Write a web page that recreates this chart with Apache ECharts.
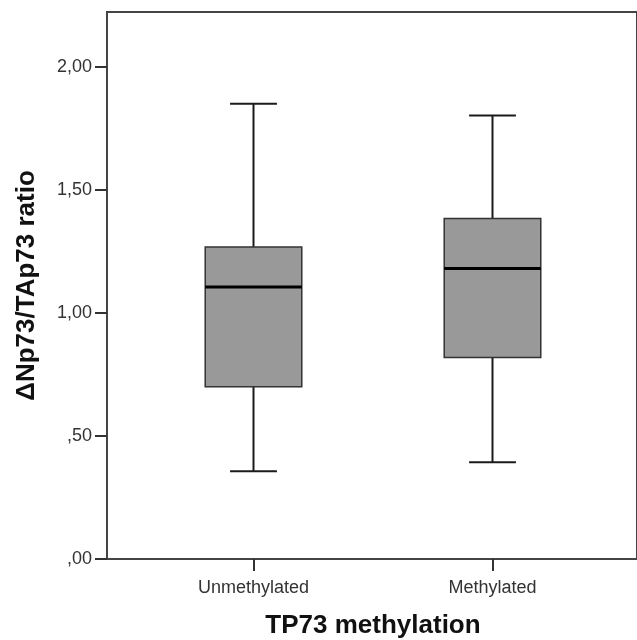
<!DOCTYPE html>
<html>
<head>
<meta charset="utf-8">
<script src="https://cdn.jsdelivr.net/npm/echarts@6/dist/echarts.min.js"></script>
<style>
  html, body { margin: 0; padding: 0; background: #fff; }
  #main { width: 637px; height: 640px; }
</style>
</head>
<body>
<div id="main"></div>
<script>
var categories = ['Unmethylated', 'Methylated'];
var lowWhisker = [0.357, 0.393];
var q1 = [0.700, 0.819];
var median = [1.106, 1.181];
var q3 = [1.268, 1.384];
var highWhisker = [1.851, 1.803];
var yTicks = [0, 0.5, 1, 1.5, 2];

var boxData = [];
for (var i = 0; i < categories.length; i++) {
    boxData.push([i, lowWhisker[i], q1[i], median[i], q3[i], highWhisker[i]]);
}

function tickLabel(v) {
    // SPSS style: comma decimal, no leading zero
    return v.toFixed(2).replace('.', ',').replace(/^0/, '');
}

function renderBox(params, api) {
    var x = api.value(0);
    var pLow = api.coord([x, api.value(1)]);
    var pQ1 = api.coord([x, api.value(2)]);
    var pMed = api.coord([x, api.value(3)]);
    var pQ3 = api.coord([x, api.value(4)]);
    var pHigh = api.coord([x, api.value(5)]);
    var band = api.size([1, 0])[0];
    var half = band * 0.202;
    var capHalf = band * 0.098;
    var cx = pMed[0];
    var wStyle = { stroke: '#1a1a1a', lineWidth: 2 };
    return {
        type: 'group',
        children: [
            { type: 'line', shape: { x1: cx, y1: pHigh[1], x2: cx, y2: pQ3[1] }, style: wStyle },
            { type: 'line', shape: { x1: cx, y1: pQ1[1], x2: cx, y2: pLow[1] }, style: wStyle },
            { type: 'line', shape: { x1: cx - capHalf, y1: pHigh[1], x2: cx + capHalf, y2: pHigh[1] }, style: wStyle },
            { type: 'line', shape: { x1: cx - capHalf, y1: pLow[1], x2: cx + capHalf, y2: pLow[1] }, style: wStyle },
            { type: 'rect', shape: { x: cx - half, y: pQ3[1], width: half * 2, height: pQ1[1] - pQ3[1] },
              style: { fill: '#999999', stroke: '#333333', lineWidth: 1.5 } },
            { type: 'line', shape: { x1: cx - half, y1: pMed[1], x2: cx + half, y2: pMed[1] },
              style: { stroke: '#000000', lineWidth: 3 } }
        ]
    };
}

var myChart = echarts.init(document.getElementById('main'));
var option = {
    backgroundColor: '#ffffff',
    animation: false,
    textStyle: { fontFamily: 'Liberation Sans, Arial, sans-serif' },
    grid: [
        { left: 134, right: 25, top: 67, bottom: 81, outerBoundsMode: 'none' },
        { left: 107, right: 0, top: 12, bottom: 81, outerBoundsMode: 'none',
          show: true, borderColor: '#444444', borderWidth: 2, backgroundColor: 'transparent' }
    ],
    xAxis: [
        {
            gridIndex: 0,
            type: 'category',
            data: categories,
            axisLine: { show: false },
            axisTick: { show: true, alignWithLabel: true, length: 12, lineStyle: { color: '#333', width: 2 } },
            axisLabel: { color: '#333', fontSize: 18, margin: 20 },
            name: 'TP73 methylation',
            nameLocation: 'middle',
            nameGap: 54,
            nameTextStyle: { color: '#111', fontSize: 26, fontWeight: 'bold' }
        },
        { gridIndex: 1, type: 'value', show: false }
    ],
    yAxis: [
        {
            gridIndex: 0,
            type: 'value',
            min: 0,
            max: 2,
            interval: 0.5,
            offset: 27,
            axisLine: { show: false },
            splitLine: { show: false },
            axisTick: { show: true, length: 12, lineStyle: { color: '#333', width: 2 } },
            axisLabel: {
                color: '#333', fontSize: 18, margin: 15,
                formatter: function (v) { return yTicks.indexOf(v) >= 0 ? tickLabel(v) : ''; }
            }
        },
        {
            // frame axis, only carries the title centred on the full plot height
            gridIndex: 1,
            type: 'value',
            axisLine: { show: false },
            axisTick: { show: false },
            axisLabel: { show: false },
            splitLine: { show: false },
            name: '\u0394Np73/TAp73 ratio',
            nameLocation: 'middle',
            nameGap: 67,
            nameTextStyle: { color: '#111', fontSize: 26, fontWeight: 'bold' }
        }
    ],
    series: [
        {
            type: 'custom',
            xAxisIndex: 0,
            yAxisIndex: 0,
            renderItem: renderBox,
            encode: { x: 0, y: [1, 2, 3, 4, 5] },
            data: boxData
        }
    ]
};
myChart.setOption(option);
</script>
</body>
</html>
